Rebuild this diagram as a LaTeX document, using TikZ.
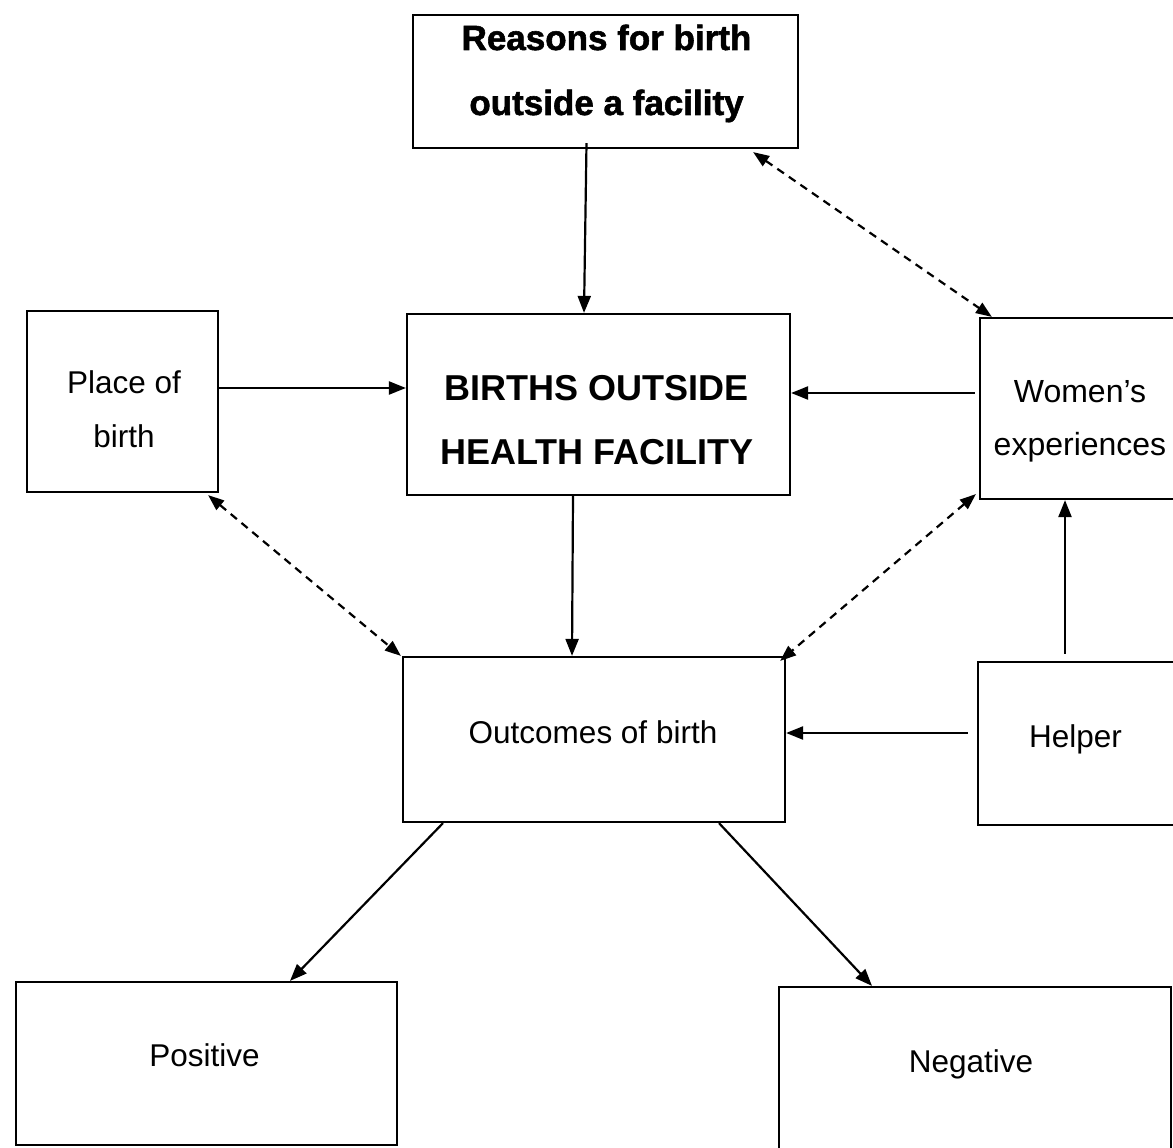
\documentclass[tikz,border=0pt]{standalone}
\usepackage{fontspec}
\setmainfont{Liberation Sans}
\newfontfamily\heavyfont{Liberation Sans Bold}[FakeBold=1.6]
\usetikzlibrary{arrows.meta,calc}
\tikzset{
  box/.style={draw, line width=2.2pt, inner sep=0pt, rectangle},
  lbl/.style={anchor=base, inner sep=0pt, font=\fontsize{31.5}{54}\selectfont},
  hdr/.style={anchor=base, inner sep=0pt, font=\bfseries\fontsize{35}{65}\selectfont},
  arr/.style={line width=2.2pt, -{Triangle[length=17pt,width=13pt]}},
  dbl/.style={line width=2.2pt, dash pattern=on 8pt off 6pt, {Triangle[length=16pt,width=12pt]}-{Triangle[length=16pt,width=12pt]}}
}
\begin{document}
\begin{tikzpicture}[x=1pt,y=-1pt]
\fill[white] (0,0) rectangle (1173,1148);
\useasboundingbox (0,0) rectangle (1173,1148);
% boxes
\node[box, minimum width=385pt, minimum height=133pt] (reasons) at (605.5,81.5) {};
\node[box, minimum width=383pt, minimum height=181pt] (births) at (598.5,404.5) {};
\node[box, minimum width=191pt, minimum height=181pt] (place) at (122.5,401.5) {};
\node[box, minimum width=200pt, minimum height=181pt] (women) at (1080,408.5) {};
\node[box, minimum width=382pt, minimum height=165pt] (outcomes) at (594,739.5) {};
\node[box, minimum width=202pt, minimum height=163pt] (helper) at (1079,743.5) {};
\node[box, minimum width=381pt, minimum height=163pt] (positive) at (206.5,1063.5) {};
\node[box, minimum width=392pt, minimum height=173pt] (negative) at (975,1073.5) {};
% texts
\node[hdr, font=\heavyfont\fontsize{35}{65}\selectfont] (reasonsT) at (606.5,50) {\begin{tabular}[t]{@{}c@{}}Reasons for birth\\outside a facility\end{tabular}};
\node[hdr, font=\bfseries\fontsize{36}{64}\selectfont] (birthsT) at (597,400) {\begin{tabular}[t]{@{}c@{}}BIRTHS OUTSIDE\\HEALTH FACILITY\end{tabular}};
\node[lbl] (placeT) at (124,393) {\begin{tabular}[t]{@{}c@{}}Place of\\birth\end{tabular}};
\node[lbl, font=\fontsize{32}{53}\selectfont] (womenT) at (1080,402) {\begin{tabular}[t]{@{}c@{}}Women’s\\experiences\end{tabular}};
\node[lbl] (outcomesT) at (593,743) {Outcomes of birth};
\node[lbl] (helperT) at (1075.5,747) {Helper};
\node[lbl] (positiveT) at (204.5,1066) {Positive};
\node[lbl] (negativeT) at (971,1072) {Negative};
% solid connectors
\draw[arr] ($(reasons.south)+(-19,-6)$) -- ($(births.north)+(-14.5,0)$);
\draw[arr] ($(place.east)+(0,-13.5)$) -- ($(births.west)+(0,-16.5)$);
\draw[arr] ($(women.west)+(-4,-15.5)$) -- ($(births.east)+(0,-11.5)$);
\draw[arr] ($(births.south)+(-25.5,0)$) -- ($(outcomes.north)+(-22,0)$);
\draw[arr] ($(helper.west)+(-9,-10.5)$) -- ($(outcomes.east)+(0,-6.5)$);
\draw[arr] ($(helper.north)+(-14,-7)$) -- ($(women.south)+(-15,0)$);
\draw[arr] ($(outcomes.south)+(-151,0)$) -- ($(positive.north)+(83.5,0)$);
\draw[arr] ($(outcomes.south)+(125,0)$) -- ($(negative.north)+(-103,0)$);
% dashed connectors
\draw[dbl] ($(reasons.south east)+(-46,3)$) -- ($(women.north west)+(13,0)$);
\draw[dbl] ($(place.south east)+(-11,2)$) -- ($(outcomes.north west)+(-1,0)$);
\draw[dbl] ($(women.south west)+(-3,-6)$) -- ($(outcomes.north east)+(-6,5)$);
\end{tikzpicture}
\end{document}
